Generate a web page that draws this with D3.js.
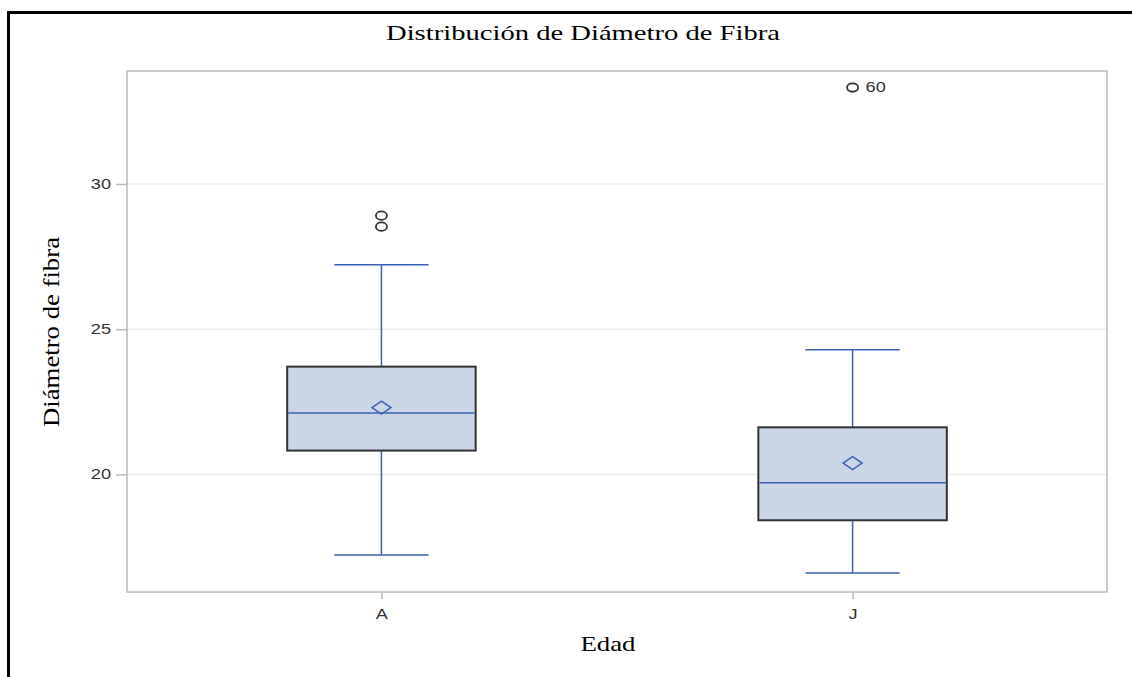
<!DOCTYPE html>
<html>
<head>
<meta charset="utf-8">
<script src="https://cdn.jsdelivr.net/npm/d3@7"></script>
<style>
  body { margin: 0; background: #fff; }
  svg { display: block; }
</style>
</head>
<body>
<svg id="chart" width="1132" height="677"></svg>
<script>
const groups = ["A", "J"];
const q1 = [20.82, 18.42];
const median = [22.11, 19.71];
const q3 = [23.71, 21.62];
const mean = [22.3, 20.39];
const whiskerLow = [17.22, 16.6];
const whiskerHigh = [27.22, 24.29];
const outlierGroup = ["A", "A", "J"];
const outlierValue = [28.91, 28.53, 33.32];
const outlierLabel = ["", "", "60"];
const yTicks = [20, 25, 30];

const svg = d3.select("#chart");
const stretch = 1.3; // reference is drawn wider than tall
const tickFont = 14;
const plotLeft = 127, plotRight = 1107, plotTop = 71, plotBottom = 592;

const x = d3.scalePoint().domain(groups).range([plotLeft, plotRight]).padding(0.54);
const y = d3.scaleLinear().domain([15.95, 33.89]).range([plotBottom, plotTop]);
const step = x.step();
const boxW = step * 0.4, capW = step * 0.2;
const blue = "#3b62b5";

// outer frame
svg.append("rect")
  .attr("x", 8.5).attr("y", 12.5)
  .attr("width", 1200).attr("height", 700)
  .attr("fill", "none").attr("stroke", "#000").attr("stroke-width", 3);

// grid
svg.append("g")
  .selectAll("line")
  .data(yTicks)
  .join("line")
  .attr("x1", plotLeft).attr("x2", plotRight)
  .attr("y1", (d) => y(d)).attr("y2", (d) => y(d))
  .attr("stroke", "#ececec").attr("stroke-width", 1.5);

// y axis
const yAxis = svg.append("g")
  .attr("transform", `translate(${plotLeft}, 0)`)
  .call(d3.axisLeft(y).tickValues(yTicks).tickSize(11).tickPadding(5));
yAxis.select(".domain").remove();
yAxis.selectAll(".tick line").attr("stroke", "#b8bcc0").attr("stroke-width", 1.5);
yAxis.selectAll(".tick text")
  .attr("font-family", "Liberation Sans, Arial, sans-serif")
  .attr("font-size", tickFont)
  .attr("fill", "#333")
  .attr("transform", function () {
    const xx = +d3.select(this).attr("x");
    return `translate(${xx}, 0) scale(${stretch}, 1) translate(${-xx}, 0)`;
  });

// x axis
const xAxis = svg.append("g")
  .attr("transform", `translate(0, ${plotBottom})`)
  .call(d3.axisBottom(x).tickSize(7).tickPadding(10));
xAxis.select(".domain").remove();
xAxis.selectAll(".tick line").attr("stroke", "#b8bcc0").attr("stroke-width", 1.5);
xAxis.selectAll(".tick text")
  .attr("font-family", "Liberation Sans, Arial, sans-serif")
  .attr("font-size", tickFont)
  .attr("fill", "#333")
  .attr("transform", `scale(${stretch}, 1)`);

// plot frame
svg.append("rect")
  .attr("x", plotLeft).attr("y", plotTop)
  .attr("width", plotRight - plotLeft).attr("height", plotBottom - plotTop)
  .attr("fill", "none").attr("stroke", "#b8bcc0").attr("stroke-width", 1.5);

// boxes
const box = svg.append("g")
  .selectAll("g")
  .data(groups.map((g, i) => ({
    g, q1: q1[i], med: median[i], q3: q3[i], mean: mean[i],
    lo: whiskerLow[i], hi: whiskerHigh[i],
  })))
  .join("g")
  .attr("transform", (d) => `translate(${x(d.g)}, 0)`);

box.append("line")
  .attr("y1", (d) => y(d.hi)).attr("y2", (d) => y(d.q3))
  .attr("stroke", blue).attr("stroke-width", 1.5);
box.append("line")
  .attr("y1", (d) => y(d.q1)).attr("y2", (d) => y(d.lo))
  .attr("stroke", blue).attr("stroke-width", 1.5);
box.append("line")
  .attr("x1", -capW / 2).attr("x2", capW / 2)
  .attr("y1", (d) => y(d.hi)).attr("y2", (d) => y(d.hi))
  .attr("stroke", blue).attr("stroke-width", 1.5);
box.append("line")
  .attr("x1", -capW / 2).attr("x2", capW / 2)
  .attr("y1", (d) => y(d.lo)).attr("y2", (d) => y(d.lo))
  .attr("stroke", blue).attr("stroke-width", 1.5);
box.append("rect")
  .attr("x", -boxW / 2).attr("width", boxW)
  .attr("y", (d) => y(d.q3))
  .attr("height", (d) => y(d.q1) - y(d.q3))
  .attr("fill", "#cad5e5")
  .attr("stroke", "#333").attr("stroke-width", 2);
box.append("line")
  .attr("x1", -boxW / 2 + 1).attr("x2", boxW / 2 - 1)
  .attr("y1", (d) => y(d.med)).attr("y2", (d) => y(d.med))
  .attr("stroke", blue).attr("stroke-width", 1.5);
box.append("path")
  .attr("d", (d) => {
    const cy = y(d.mean);
    return `M-9.5,${cy}L0,${cy - 6.5}L9.5,${cy}L0,${cy + 6.5}Z`;
  })
  .attr("fill", "none").attr("stroke", blue).attr("stroke-width", 1.5);

// outliers
const out = svg.append("g")
  .selectAll("g")
  .data(outlierValue.map((v, i) => ({ g: outlierGroup[i], v, label: outlierLabel[i] })))
  .join("g")
  .attr("transform", (d) => `translate(${x(d.g)}, ${y(d.v)})`);
out.append("ellipse")
  .attr("rx", 5.5).attr("ry", 4.2)
  .attr("fill", "none").attr("stroke", "#333").attr("stroke-width", 1.8);
out.append("text")
  .attr("x", 13 / stretch).attr("dy", "0.35em")
  .attr("transform", `scale(${stretch}, 1)`)
  .attr("font-family", "Liberation Sans, Arial, sans-serif")
  .attr("font-size", tickFont)
  .attr("fill", "#333")
  .text((d) => d.label);

// title and axis labels
svg.append("text")
  .attr("x", 583).attr("y", 40)
  .attr("text-anchor", "middle")
  .attr("font-family", "Liberation Serif, Times New Roman, serif")
  .attr("font-size", 21)
  .attr("textLength", 394).attr("lengthAdjust", "spacingAndGlyphs")
  .text("Distribución de Diámetro de Fibra");

svg.append("text")
  .attr("x", 608).attr("y", 651)
  .attr("text-anchor", "middle")
  .attr("font-family", "Liberation Serif, Times New Roman, serif")
  .attr("font-size", 21)
  .attr("textLength", 55).attr("lengthAdjust", "spacingAndGlyphs")
  .text("Edad");

svg.append("text")
  .attr("transform", "translate(59, 332) rotate(-90)")
  .attr("text-anchor", "middle")
  .attr("font-family", "Liberation Serif, Times New Roman, serif")
  .attr("font-size", 24)
  .attr("textLength", 190).attr("lengthAdjust", "spacingAndGlyphs")
  .text("Diámetro de fibra");
</script>
</body>
</html>
